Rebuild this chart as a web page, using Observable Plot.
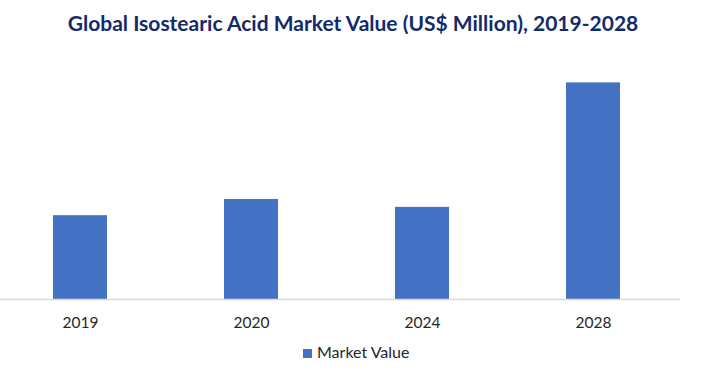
<!DOCTYPE html>
<html>
<head>
<meta charset="utf-8">
<script src="https://cdn.jsdelivr.net/npm/d3@7"></script>
<script src="https://cdn.jsdelivr.net/npm/@observablehq/plot@0.6"></script>
<style>
  html, body { margin: 0; padding: 0; background: #fff; }
  #wrap { position: relative; width: 706px; height: 370px; overflow: hidden; font-family: Lato, "Open Sans", sans-serif; }
  #title { position: absolute; left: 0; top: 9px; width: 706px; height: 28px; line-height: 28px; text-align: center;
           font-size: 21px; font-weight: bold; color: #132a6b; white-space: nowrap; }
  #chart { position: absolute; left: 0; top: 40px; }
  #legend { position: absolute; left: 303px; top: 342px; height: 20px; line-height: 20px; font-size: 16px; color: #262626; white-space: nowrap; }
  #legend .sw { display: inline-block; width: 9px; height: 9px; margin-right: 5px; vertical-align: 0px; }
</style>
</head>
<body>
<div id="wrap">
  <div id="title"></div>
  <div id="chart"></div>
  <div id="legend"></div>
</div>
<script>
const title = "Global Isostearic Acid Market Value (US$ Million), 2019-2028";
const years = ["2019", "2020", "2024", "2028"];
const marketValue = [202, 241, 222, 522];
const seriesName = "Market Value";
const barColor = "#4472c4";

const data = years.map((y, i) => ({year: y, value: marketValue[i]}));

document.getElementById("title").textContent = title;

const chart = Plot.plot({
  width: 706,
  height: 300,
  marginLeft: 0,
  marginRight: 26,
  marginTop: 10,
  marginBottom: 41,
  style: {fontFamily: "Lato, 'Open Sans', sans-serif", fontSize: "15.5px", color: "#262626", background: "#fff"},
  x: {domain: years, paddingInner: 0.686, paddingOuter: 0.32, align: 0.47, label: null, tickSize: 0, tickPadding: 17},
  y: {domain: [0, 600], axis: null},
  marks: [
    Plot.barY(data, {x: "year", y: "value", fill: barColor}),
    Plot.ruleY([0], {stroke: "#d9d9d9", strokeWidth: 1.5})
  ]
});
document.getElementById("chart").appendChild(chart);

const legend = document.getElementById("legend");
const sw = document.createElement("span");
sw.className = "sw";
sw.style.background = barColor;
legend.appendChild(sw);
legend.appendChild(document.createTextNode(seriesName));
</script>
</body>
</html>
